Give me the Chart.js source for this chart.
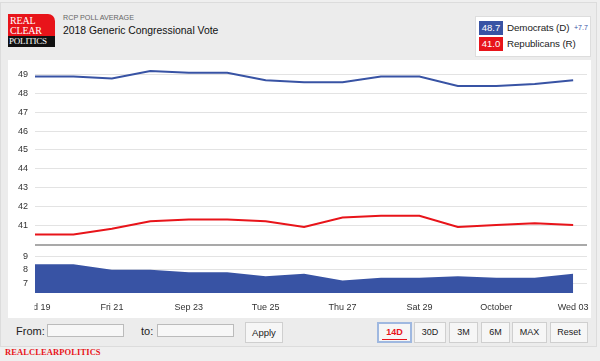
<!DOCTYPE html>
<html>
<head>
<meta charset="utf-8">
<script src="https://cdn.jsdelivr.net/npm/chart.js@4.4.1/dist/chart.umd.min.js"></script>
<style>
  html, body { margin:0; padding:0; }
  body { width:600px; height:361px; background:#efefef; position:relative; overflow:hidden;
         font-family: Helvetica, Arial, "Liberation Sans", sans-serif; }
  .frame { position:absolute; left:0; top:2px; width:597px; height:345px; background:#ececec; border:1px solid #dcdcdc; box-sizing:border-box; }
  .logo { position:absolute; left:8px; top:14px; width:47px; height:33px; }
  .logo .red { position:absolute; left:0; top:0; width:47px; height:22px; background:#e8141a; border-top-right-radius:7px; }
  .logo .blk { position:absolute; left:0; top:22px; width:47px; height:11px; background:#111; }
  .logo span { position:absolute; left:2px; color:#fff; font-family:"Liberation Serif", "DejaVu Serif", serif; font-size:10px; line-height:10px; letter-spacing:-0.2px; }
  .sub { position:absolute; left:63px; top:13px; font-size:7.2px; color:#666; }
  .title { position:absolute; left:63px; top:25px; font-size:10.4px; color:#111; }
  .legend { position:absolute; left:475px; top:16px; width:116px; height:41px; background:#fff; border:1px solid #ddd; box-sizing:border-box; }
  .badge { position:absolute; left:3px; width:24px; height:14px; color:#fff; font-size:9.5px; line-height:14px; text-align:center; }
  .ltxt { position:absolute; left:31px; font-size:9.8px; color:#222; line-height:14px; letter-spacing:-0.1px; }
  .panel { position:absolute; left:8px; top:60px; width:583px; height:258px; background:#fff; }
  canvas { position:absolute; }
  .ctrl { position:absolute; font-size:11px; color:#222; }
  .inp { position:absolute; height:13px; background:#f7f7f7; border:1px solid #bbb; box-sizing:border-box; }
  .btn { position:absolute; top:322px; height:21px; background:#f6f6f6; border:1px solid #cfcfcf; box-sizing:border-box; font-size:9px; line-height:19px; text-align:center; color:#222; }
  .foot { position:absolute; left:5px; top:347px; font-family:"Liberation Serif", serif; font-size:8.5px; color:#e8141a; letter-spacing:0.1px; font-weight:bold; }
</style>
</head>
<body>
<div class="frame"></div>
<div class="logo"><div class="red"></div><div class="blk"></div>
  <span style="top:2px">REAL</span><span style="top:12px">CLEAR</span><span style="top:23px;left:1px;font-size:9px;line-height:9px">POLITICS</span></div>
<div class="sub">RCP POLL AVERAGE</div>
<div class="title">2018 Generic Congressional Vote</div>
<div class="legend">
  <div class="badge" style="top:4px;background:#3853a4">48.7</div><div class="ltxt" style="top:4px">Democrats (D)</div>
  <div style="position:absolute;left:98px;top:7px;font-size:7px;color:#3853a4">+7.7</div>
  <div class="badge" style="top:20px;background:#e8141a">41.0</div><div class="ltxt" style="top:20px">Republicans (R)</div>
</div>
<div class="panel"></div>
<canvas id="top" width="583" height="186" style="left:8px;top:60px;width:583px;height:186px"></canvas>
<canvas id="bot" width="583" height="72" style="left:8px;top:246px;width:583px;height:72px"></canvas>
<div class="ctrl" style="left:16px;top:325px">From:</div>
<div class="inp" style="left:47px;top:324px;width:77px"></div>
<div class="ctrl" style="left:141px;top:325px">to:</div>
<div class="inp" style="left:157px;top:324px;width:77px"></div>
<div class="btn" style="left:245px;width:38px;font-size:9.5px">Apply</div>
<div class="btn" style="left:377px;width:35px;color:#e8141a;border:2px solid #9fb8e0;line-height:17px;font-weight:bold">14D<div style="position:absolute;left:3px;right:3px;bottom:1px;height:1px;background:#e8141a"></div></div>
<div class="btn" style="left:414px;width:32px">30D</div>
<div class="btn" style="left:449px;width:29px">3M</div>
<div class="btn" style="left:481px;width:29px">6M</div>
<div class="btn" style="left:512px;width:35px">MAX</div>
<div class="btn" style="left:550px;width:38px">Reset</div>
<div class="foot">REALCLEARPOLITICS</div>

<script>
// ---- data ----
const days = [0,1,2,3,4,5,6,7,8,9,10,11,12,13,14]; // Sep 19 .. Oct 3
const demValues = [48.9,48.9,48.8,49.2,49.1,49.1,48.7,48.6,48.6,48.9,48.9,48.4,48.4,48.5,48.7];
const repValues = [40.5,40.5,40.8,41.2,41.3,41.3,41.2,40.9,41.4,41.5,41.5,40.9,41.0,41.1,41.0];
const spreadValues = [8.4,8.4,8.0,8.0,7.8,7.8,7.5,7.7,7.2,7.4,7.4,7.5,7.4,7.4,7.7];
const xTickPositions = [0,2,4,6,8,10,12,14];
const xTickLabels = ['Wed 19','Fri 21','Sep 23','Tue 25','Thu 27','Sat 29','October','Wed 03'];
const upperTicks = [41,42,43,44,45,46,47,48,49];
const lowerTicks = [7,8,9];

const FONT = {family:'Helvetica, Arial, "Liberation Sans", sans-serif', size:9};
const BLUE = '#3853a4', RED = '#e8141a';
const pts = arr => days.map((d,i)=>({x:d, y:arr[i]}));

const xBase = { type:'linear', min:0, max:14.36 };
const UPMIN = 39.94, UPMAX = 49.78;
const fitY = s => { s.width = 27; s.paddingTop = 0; s.paddingBottom = 0; };

new Chart(document.getElementById('top'), {
  type:'line',
  data:{ datasets:[
    {data:pts(demValues), borderColor:BLUE, borderWidth:2, pointRadius:0, tension:0},
    {data:pts(repValues), borderColor:RED, borderWidth:2, pointRadius:0, tension:0}
  ]},
  options:{
    responsive:false, animation:false, events:[], devicePixelRatio:1,
    layout:{padding:{left:0,right:4,top:0,bottom:1}},
    plugins:{legend:{display:false}, tooltip:{enabled:false}},
    scales:{
      x:{...xBase, display:false},
      y:{min:UPMIN, max:UPMAX,
        afterBuildTicks:s=>{ s.ticks=[{value:UPMIN}].concat(upperTicks.map(v=>({value:v}))); },
        afterFit:fitY,
        border:{display:false},
        grid:{drawTicks:false, color:c=>c.tick && c.tick.value===UPMIN ? '#a9a9a9':'#e3e3e3',
              lineWidth:c=>c.tick && c.tick.value===UPMIN ? 2:1},
        ticks:{padding:7, color:'#333', font:FONT, callback:v=> v===UPMIN ? '' : String(v)}
      }
    }
  }
});

const clipLabels = {
  id:'clipLabels',
  beforeDraw(chart){
    const s = chart.scales.x;
    if (s._wrapped) return;
    const orig = s.drawLabels.bind(s);
    s.drawLabels = function(ca){
      const c = chart.ctx; c.save(); c.beginPath();
      c.rect(chart.chartArea.left - 0.5, 0, chart.width, chart.height); c.clip();
      orig(ca); c.restore();
    };
    s._wrapped = true;
  }
};

const LOMIN = 6.26, LOMAX = 9.76;
new Chart(document.getElementById('bot'), {
  type:'line',
  data:{ datasets:[
    {data:pts(spreadValues), borderColor:BLUE, backgroundColor:BLUE, borderWidth:0, fill:'start', pointRadius:0, tension:0}
  ]},
  options:{
    responsive:false, animation:false, events:[], devicePixelRatio:1,
    layout:{padding:{left:0,right:4,top:0,bottom:0}},
    plugins:{legend:{display:false}, tooltip:{enabled:false}},
    scales:{
      x:{...xBase,
        afterBuildTicks:s=>{ s.ticks = xTickPositions.map(v=>({value:v})); },
        afterFit:s=>{ s.height=25; s.paddingLeft = 0; s.paddingRight = 0; },
        border:{display:false}, grid:{display:false, drawTicks:false},
        ticks:{padding:9, color:'#333', font:FONT, maxRotation:0, autoSkip:false,
               callback:(v)=>{ const i = xTickPositions.indexOf(v); return i>=0 ? xTickLabels[i] : ''; }}
      },
      y:{min:LOMIN, max:LOMAX,
        afterBuildTicks:s=>{ s.ticks = lowerTicks.map(v=>({value:v})); },
        afterFit:fitY,
        border:{display:false},
        grid:{drawTicks:false, color:'#e3e3e3'},
        ticks:{padding:7, color:'#333', font:FONT}
      }
    }
  },
  plugins:[clipLabels]
});
</script>
</body>
</html>
